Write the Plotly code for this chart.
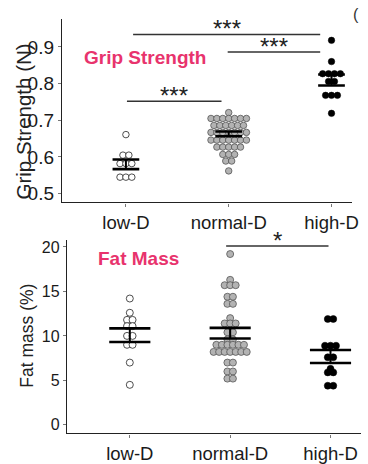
import plotly.graph_objects as go

W, H = 368, 464

categories = ["low-D", "normal-D", "high-D"]

# ---- Grip strength (N) ----
grip_low = [0.661, 0.605, 0.605, 0.582, 0.582, 0.582, 0.545, 0.545, 0.545]
grip_normal = [0.721,
               0.705, 0.705, 0.705, 0.705, 0.705, 0.705, 0.705,
               0.686, 0.686, 0.686, 0.686, 0.686, 0.686,
               0.667, 0.667, 0.667, 0.667, 0.667, 0.667, 0.667,
               0.646, 0.646, 0.646, 0.646, 0.646, 0.646, 0.646,
               0.627, 0.627, 0.627, 0.627, 0.627,
               0.607, 0.607, 0.607,
               0.589, 0.589,
               0.562]
grip_high = [0.918, 0.860, 0.827, 0.827, 0.827, 0.827, 0.806, 0.806,
             0.768, 0.768, 0.768, 0.719]
grip_mean = [0.580, 0.663, 0.810]
grip_sem = [0.013, 0.0065, 0.015]
grip_ticks = [0.5, 0.6, 0.7, 0.8, 0.9]
grip_sig = [(0.07, 1.89, 0.934, "***"), (0.99, 1.89, 0.886, "***"), (0.01, 0.93, 0.752, "***")]

# ---- Fat mass (%) ----
fat_low = [14.2, 12.6, 11.8, 11.8, 11.1, 11.1, 10.0, 10.0, 9.0, 9.0, 7.0, 4.5]
fat_normal = [19.2, 16.3, 15.7, 15.7, 15.7, 14.4, 14.4, 13.6, 13.6, 12.0,
              11.4, 11.4, 11.4, 10.4, 10.4, 9.6, 9.6,
              9.0, 9.0, 9.0, 9.0, 9.0, 9.0,
              8.2, 8.2, 8.2, 8.2, 8.2, 8.2, 8.2,
              7.0, 7.0, 6.0, 6.0, 5.2, 5.2]
fat_high = [11.9, 11.9, 8.9, 8.9, 8.9, 7.6, 7.6, 6.3, 5.9, 5.9, 4.4, 4.4]
fat_mean = [10.08, 10.3, 7.68]
fat_sem = [0.77, 0.6, 0.73]
fat_ticks = [0, 5, 10, 15, 20]
fat_sig = [(0.96, 1.98, 20.1, "*")]

FONT = "Liberation Sans, Arial, sans-serif"
PINK = "#e8336d"
styles = [dict(color="white", line=dict(color="#222", width=0.8)),
          dict(color="#b3b3b3", line=dict(color="#555", width=0.8)),
          dict(color="black", line=dict(color="black", width=0.5))]


def swarm(values, center, dx):
    counts = {}
    for v in values:
        counts[v] = counts.get(v, 0) + 1
    seen, xs = {}, []
    for v in values:
        n = counts[v]
        i = seen.get(v, 0)
        seen[v] = i + 1
        xs.append(center + (i - (n - 1) / 2) * dx)
    return xs


fig = go.Figure()


def add_panel(groups, means, sems, xa, ya, dx, msize, hw):
    for i, vals in enumerate(groups):
        fig.add_trace(go.Scatter(
            x=swarm(vals, i, dx), y=vals, mode="markers",
            marker=dict(size=msize, **styles[i]),
            xaxis=xa, yaxis=ya, showlegend=False, hoverinfo="y"))
    hx, hy, vx, vy = [], [], [], []
    for i, (m, s) in enumerate(zip(means, sems)):
        hx += [i - hw, i + hw, None, i - hw, i + hw, None]
        hy += [m + s, m + s, None, m - s, m - s, None]
        vx += [i, i, None]
        vy += [m - s, m + s, None]
    fig.add_trace(go.Scatter(x=hx, y=hy, mode="lines", line=dict(color="black", width=2.6),
                             xaxis=xa, yaxis=ya, showlegend=False, hoverinfo="skip"))
    fig.add_trace(go.Scatter(x=vx, y=vy, mode="lines", line=dict(color="black", width=2),
                             xaxis=xa, yaxis=ya, showlegend=False, hoverinfo="skip"))


add_panel([grip_low, grip_normal, grip_high], grip_mean, grip_sem, "x", "y", 0.0575, 6.5, 0.13)
add_panel([fat_low, fat_normal, fat_high], fat_mean, fat_sem, "x2", "y2", 0.055, 7, 0.205)

shapes, annotations = [], []
for (x0, x1, yv, lab), (xr, yr) in [(s, ("x", "y")) for s in grip_sig] + [(s, ("x2", "y2")) for s in fat_sig]:
    shapes.append(dict(type="line", xref=xr, yref=yr, x0=x0, x1=x1, y0=yv, y1=yv,
                       line=dict(color="#333", width=1.6)))
    annotations.append(dict(text=lab, xref=xr, yref=yr, x=(x0 + x1) / 2, y=yv,
                            xanchor="center", yanchor="middle", yshift=6, showarrow=False,
                            font=dict(family=FONT, size=24, color="#222")))


def px(xp, yp):
    return xp / W, 1 - yp / H


for text, (cx, cy), size, bold, ang, col in [
        ("Grip Strength", (147.5, 57), 19, True, 0, PINK),
        ("Fat Mass", (141, 262), 19, True, 0, PINK),
        ("Grip Strength (N)", (24, 123), 20.5, False, -90, "#222"),
        ("Fat mass (%)", (28, 341), 17.5, False, -90, "#222")]:
    x, y = px(cx, cy)
    annotations.append(dict(text=f"<b>{text}</b>" if bold else text, xref="paper", yref="paper",
                            x=x, y=y, xanchor="center", yanchor="middle", showarrow=False,
                            textangle=ang, font=dict(family=FONT, size=size, color=col)))

x, y = px(367, 14)
annotations.append(dict(text="(", xref="paper", yref="paper", x=x, y=y, xanchor="right",
                        yanchor="middle", showarrow=False, font=dict(family=FONT, size=16, color="#333")))

axis_common = dict(showgrid=False, zeroline=False, showline=True, linecolor="#222", linewidth=1.3,
                   ticks="outside", ticklen=3, tickcolor="#777", tickwidth=1)

fig.update_layout(
    width=W, height=H, margin=dict(l=0, r=0, t=0, b=0),
    paper_bgcolor="white", plot_bgcolor="white",
    xaxis=dict(domain=[63 / W, 358 / W], range=[-0.622, 2.201], tickvals=[0, 1, 2],
               ticktext=categories, anchor="y", tickfont=dict(family=FONT, size=18.5, color="#1a1a1a"),
               **axis_common),
    yaxis=dict(domain=[1 - 205 / H, 1 - 18 / H], range=[0.476, 0.977], tickvals=grip_ticks,
               ticktext=[f"{t:.1f}" for t in grip_ticks], anchor="x",
               tickfont=dict(family=FONT, size=19, color="#1a1a1a"), **axis_common),
    xaxis2=dict(domain=[68 / W, 367 / W], range=[-0.627, 2.304], tickvals=[0, 1, 2],
                ticktext=categories, anchor="y2", tickfont=dict(family=FONT, size=18.5, color="#1a1a1a"),
                **axis_common),
    yaxis2=dict(domain=[1 - 440 / H, 1 - 243 / H], range=[-0.96, 20.8], tickvals=fat_ticks,
                anchor="x2", tickfont=dict(family=FONT, size=16, color="#1a1a1a"), **axis_common),
    shapes=shapes, annotations=annotations,
)

fig.write_html("out.html", config={"displayModeBar": False},
               post_script="document.body.style.margin='0';")
